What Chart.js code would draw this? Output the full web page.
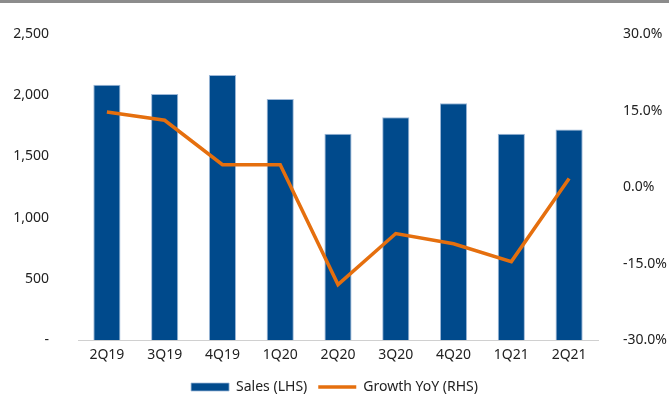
<!DOCTYPE html>
<html lang="en">
<head>
    <meta charset="UTF-8">
    <title>Sales and Growth YoY</title>
    <script src="https://cdn.jsdelivr.net/npm/chart.js"></script>
    <style>
        html, body { margin: 0; padding: 0; background: #fff; }
        .topline { height: 3px; background: #8c8c8c; width: 669px; }
        .wrap { position: relative; width: 669px; height: 401px; }
    </style>
</head>
<body>
    <div class="topline"></div>
    <div class="wrap"><canvas id="salesChart"></canvas></div>

    <script>
        const quarters = ['2Q19', '3Q19', '4Q19', '1Q20', '2Q20', '3Q20', '4Q20', '1Q21', '2Q21'];
        const sales = [2085, 2010, 2165, 1970, 1685, 1820, 1935, 1685, 1720];
        const growthYoY = [14.7, 13.1, 4.4, 4.4, -19.1, -9.1, -11.1, -14.6, 1.7];

        const textColor = '#222222';
        const font = { family: 'Noto Sans', size: 14 };

        const ctx = document.getElementById('salesChart').getContext('2d');
        const chart = new Chart(ctx, {
            data: {
                labels: quarters,
                datasets: [{
                    type: 'line',
                    label: 'Growth YoY (RHS)',
                    data: growthYoY,
                    yAxisID: 'y1',
                    borderColor: '#E56F0E',
                    backgroundColor: '#E56F0E',
                    borderWidth: 3.5,
                    pointRadius: 0,
                    tension: 0,
                    pointStyle: 'line',
                    order: 0
                }, {
                    type: 'bar',
                    label: 'Sales (LHS)',
                    data: sales,
                    yAxisID: 'y',
                    backgroundColor: '#004A8C',
                    borderColor: '#9DB8D8',
                    borderWidth: { top: 1, left: 1, right: 1, bottom: 0 },
                    categoryPercentage: 1,
                    barPercentage: 0.47,
                    pointStyle: 'rect',
                    order: 1
                }]
            },
            options: {
                responsive: true,
                maintainAspectRatio: false,
                animation: false,
                layout: { padding: { top: 31, bottom: 0, left: 0, right: 0 } },
                plugins: {
                    tooltip: { enabled: false },
                    legend: {
                        position: 'bottom',
                        reverse: true,
                        labels: {
                            color: textColor,
                            font: font,
                            usePointStyle: true,
                            pointStyleWidth: 38,
                            boxHeight: 8,
                            padding: 11
                        }
                    }
                },
                scales: {
                    x: {
                        grid: { display: false, drawTicks: false },
                        border: { display: true, color: '#d0d0d0', width: 1 },
                        ticks: { color: textColor, font: font, padding: 6, maxRotation: 0 }
                    },
                    y: {
                        position: 'left',
                        min: 0,
                        max: 2500,
                        grid: { display: false },
                        border: { display: false },
                        afterFit: function (scale) { scale.width = 78; },
                        ticks: {
                            stepSize: 500,
                            color: textColor,
                            font: font,
                            padding: 21,
                            callback: function (v) { return v === 0 ? '-' : v.toLocaleString('en-US'); }
                        }
                    },
                    y1: {
                        position: 'right',
                        min: -30,
                        max: 30,
                        grid: { display: false },
                        border: { display: false },
                        afterFit: function (scale) { scale.width = 71; },
                        ticks: {
                            stepSize: 15,
                            color: textColor,
                            font: font,
                            padding: 17,
                            callback: function (v) { return v.toFixed(1) + '%'; }
                        }
                    }
                }
            }
        });
    </script>
</body>
</html>
